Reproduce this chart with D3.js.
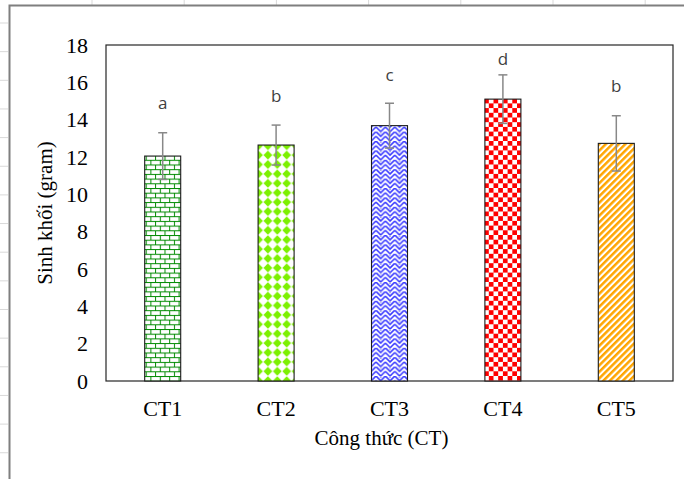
<!DOCTYPE html>
<html><head><meta charset="utf-8">
<script src="https://cdn.jsdelivr.net/npm/d3@7"></script>
<style>body{margin:0;background:#fff}svg{display:block}</style>
</head><body>
<script>
const categories = ["CT1","CT2","CT3","CT4","CT5"];
const means = [12.05, 12.64, 13.68, 15.1, 12.73];
const sds = [1.25, 1.07, 1.2, 1.3, 1.48];
const letters = ["a","b","c","d","b"];
const letterPos = [14.57, 14.94, 16.07, 16.93, 15.47];
const yTicks = [0,2,4,6,8,10,12,14,16,18];
const patterns = ["brick","diamond","weave","checker","stripe"];

const W=684,H=479;
const svg=d3.select("body").append("svg").attr("width",W).attr("height",H);
svg.append("rect").attr("width",W).attr("height",H).attr("fill","#fff");

// spreadsheet grid fragments + chart area frame
const g0=svg.append("g");
d3.range(92,684,92.2).forEach(x=>g0.append("line").attr("x1",x).attr("x2",x).attr("y1",0).attr("y2",5).attr("stroke","#d9d9d9"));
d3.range(23,479,28.65).forEach(y=>g0.append("line").attr("x1",0).attr("x2",8).attr("y1",y).attr("y2",y).attr("stroke","#d9d9d9"));
g0.append("path").attr("d","M9.5,479V5.5H684").attr("fill","none").attr("stroke","#7f7f7f").attr("stroke-width",2);

const defs=svg.append("defs");
const T=9.4,h=T/2;
let p=defs.append("pattern").attr("id","brick").attr("patternUnits","userSpaceOnUse").attr("width",T).attr("height",T);
p.append("rect").attr("width",T).attr("height",T).attr("fill","#fff");
[[0,0,T,1],[0,h,T,1],[0,0,1,h],[h,h,1,h]].forEach(r=>p.append("rect").attr("x",r[0]).attr("y",r[1]).attr("width",r[2]).attr("height",r[3]).attr("fill","#008a00"));

p=defs.append("pattern").attr("id","diamond").attr("patternUnits","userSpaceOnUse").attr("width",T).attr("height",T);
p.append("rect").attr("width",T).attr("height",T).attr("fill","#fff");
p.append("polygon").attr("points",`${h},0.3 ${T-0.3},${h} ${h},${T-0.3} 0.3,${h}`).attr("fill","#7cf000");

p=defs.append("pattern").attr("id","weave").attr("patternUnits","userSpaceOnUse").attr("width",T).attr("height",T);
p.append("rect").attr("width",T).attr("height",T).attr("fill","#fff");
p.append("path").attr("d",`M0,0L${h},${h}L${T},0 M0,${h}L${h/2},${h*1.5} M${T},${h}L${h*1.5},${h*1.5} M${h},${T}L${h*0.5},${T-h*0.5} M${h},${T}L${h*1.5},${T-h*0.5}`).attr("stroke","#3a3aff").attr("stroke-width",1.6).attr("fill","none");
p.append("path").attr("d",`M${h},${h*0.2}L${h},${h*0.2}`).attr("stroke","#1010c0").attr("stroke-width",1.2).attr("stroke-linecap","round");

p=defs.append("pattern").attr("id","checker").attr("patternUnits","userSpaceOnUse").attr("width",T).attr("height",T);
p.append("rect").attr("width",T).attr("height",T).attr("fill","#fff");
p.append("rect").attr("width",h).attr("height",h).attr("fill","#f00");
p.append("rect").attr("x",h).attr("y",h).attr("width",h).attr("height",h).attr("fill","#f00");

p=defs.append("pattern").attr("id","stripe").attr("patternUnits","userSpaceOnUse").attr("width",4.6).attr("height",10).attr("patternTransform","rotate(45)");
p.append("rect").attr("width",4.6).attr("height",10).attr("fill","#fff");
p.append("rect").attr("width",2.5).attr("height",10).attr("fill","#ffa500");

const L=106,R=673,Tp=45,B=381;
const x=d3.scaleBand().domain(categories).range([L,R]).paddingInner(0.6825).paddingOuter(0.34125);
const y=d3.scaleLinear().domain([0,18]).range([B,Tp]);

svg.append("rect").attr("x",L).attr("y",Tp).attr("width",R-L).attr("height",B-Tp).attr("fill","#fff").attr("stroke","#262626").attr("stroke-width",1.2);

const data=categories.map((c,i)=>({c,m:means[i],s:sds[i],l:letters[i],lp:letterPos[i],p:patterns[i]}));

svg.append("g").selectAll("rect").data(data).join("rect")
 .attr("x",d=>x(d.c)).attr("y",d=>y(d.m)).attr("width",x.bandwidth()).attr("height",d=>y(0)-y(d.m))
 .attr("fill",d=>`url(#${d.p})`).attr("stroke","#1a1a1a").attr("stroke-width",1.1);

const eb=svg.append("g").attr("stroke","#888").attr("stroke-width",1.5);
data.forEach(d=>{
  const cx=x(d.c)+x.bandwidth()/2;
  eb.append("line").attr("x1",cx).attr("x2",cx).attr("y1",y(d.m+d.s)).attr("y2",y(d.m-d.s));
  eb.append("line").attr("x1",cx-4.5).attr("x2",cx+4.5).attr("y1",y(d.m+d.s)).attr("y2",y(d.m+d.s));
  eb.append("line").attr("x1",cx-4.5).attr("x2",cx+4.5).attr("y1",y(d.m-d.s)).attr("y2",y(d.m-d.s));
});

svg.append("g").selectAll("text").data(data).join("text")
 .attr("x",d=>x(d.c)+x.bandwidth()/2).attr("y",d=>y(d.lp)).attr("text-anchor","middle")
 .attr("font-family","'Open Sans','Liberation Sans',sans-serif").attr("font-size",17).attr("fill","#404040").text(d=>d.l);

const ya=svg.append("g").attr("transform",`translate(${L},0)`)
 .call(d3.axisLeft(y).tickValues(yTicks).tickSize(0).tickPadding(18));
ya.select(".domain").remove();
ya.selectAll("text").attr("font-family","'Liberation Serif',serif").attr("font-size",22).attr("fill","#000");

const xa=svg.append("g").attr("transform",`translate(0,${B})`)
 .call(d3.axisBottom(x).tickSize(0).tickPadding(19));
xa.select(".domain").remove();
xa.selectAll("text").attr("font-family","'Liberation Serif',serif").attr("font-size",22).attr("fill","#000");

svg.append("text").attr("x",(L+R)/2 - 8).attr("y",445).attr("text-anchor","middle")
 .attr("font-family","'Liberation Serif',serif").attr("font-size",21).attr("fill","#000").text("Công thức (CT)");
svg.append("text").attr("transform",`translate(52,${(Tp+B)/2}) rotate(-90)`).attr("text-anchor","middle")
 .attr("font-family","'Liberation Serif',serif").attr("font-size",21).attr("fill","#000").text("Sinh khối (gram)");
</script>
</body></html>
